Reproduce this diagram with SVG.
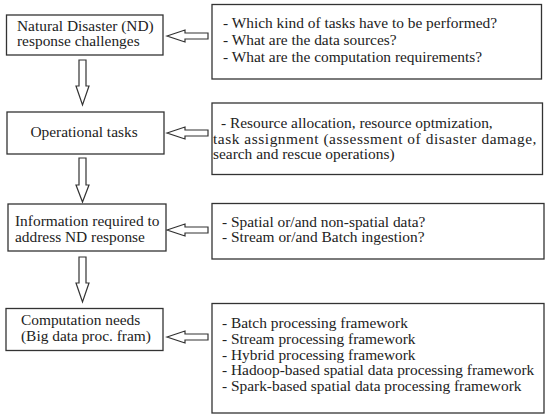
<svg xmlns="http://www.w3.org/2000/svg" width="550" height="418" viewBox="0 0 550 418">
<style>
.box{fill:#fff;stroke:#333;stroke-width:1.3}
.arr{fill:#fff;stroke:#333;stroke-width:1.2;stroke-linejoin:miter}
text{font-family:"Liberation Serif","DejaVu Serif",serif;font-size:14px;fill:#222}
.c{text-anchor:middle}
</style>
<rect width="550" height="418" fill="#fff"/>
<g id="connectors">
<polygon class="arr" points="167,36 185,30 185,33 208,33 208,39 185,39 185,42"/>
<polygon class="arr" points="167,133 185,127 185,130 208,130 208,136 185,136 185,139"/>
<polygon class="arr" points="167,230 185,224 185,227 208,227 208,233 185,233 185,236"/>
<polygon class="arr" points="167,337 185,331 185,334 208,334 208,340 185,340 185,343"/>
<polygon class="arr" points="79,60 86,60 86,86 89,86 82.5,105 76,86 79,86"/>
<polygon class="arr" points="79,158 86,158 86,185 89,185 82.5,202 76,185 79,185"/>
<polygon class="arr" points="79,257 86,257 86,283 89,283 82.5,302 76,283 79,283"/>
</g>
<g id="n1"><rect class="box" x="6.5" y="15" width="156.5" height="40"/>
<text transform="translate(17,31) scale(1.1,1)">Natural Disaster (ND)</text>
<text transform="translate(17,46) scale(1.1,1)">response challenges</text></g>
<g id="n2"><rect class="box" x="7" y="112" width="157" height="42"/>
<text class="c" transform="translate(84,137) scale(1.1,1)">Operational tasks</text></g>
<g id="n3"><rect class="box" x="8" y="204" width="158" height="47"/>
<text transform="translate(15,226) scale(1.1,1)">Information required to</text>
<text transform="translate(15,242) scale(1.1,1)">address ND response</text></g>
<g id="n4"><rect class="box" x="6" y="308.5" width="157" height="42"/>
<text transform="translate(21,325) scale(1.1,1)">Computation needs</text>
<text transform="translate(21,341) scale(1.1,1)">(Big data proc. fram)</text></g>
<g id="r1"><rect class="box" x="212" y="4.5" width="329.5" height="74.5"/>
<text transform="translate(223,28) scale(1.1,1)">- Which kind of tasks have to be performed?</text>
<text transform="translate(223,45) scale(1.1,1)">- What are the data sources?</text>
<text transform="translate(223,62) scale(1.1,1)">- What are the computation requirements?</text></g>
<g id="r2"><rect class="box" x="212" y="103" width="330.5" height="71.5"/>
<text transform="translate(221,128) scale(1.1,1)">- Resource allocation, resource optmization,</text>
<text transform="translate(213,143.5) scale(1.1,1)" textLength="294" lengthAdjust="spacing">task assignment (assessment of disaster damage,</text>
<text transform="translate(213,159) scale(1.1,1)">search and rescue operations)</text></g>
<g id="r3"><rect class="box" x="212" y="203.5" width="332" height="55.5"/>
<text transform="translate(222,227) scale(1.1,1)">- Spatial or/and non-spatial data?</text>
<text transform="translate(222,242) scale(1.1,1)">- Stream or/and Batch ingestion?</text></g>
<g id="r4"><rect class="box" x="212" y="303.5" width="332" height="109.5"/>
<text transform="translate(222,328) scale(1.1,1)">- Batch processing framework</text>
<text transform="translate(222,344) scale(1.1,1)">- Stream processing framework</text>
<text transform="translate(222,359.5) scale(1.1,1)">- Hybrid processing framework</text>
<text transform="translate(222,375) scale(1.1,1)">- Hadoop-based spatial data processing framework</text>
<text transform="translate(222,390.5) scale(1.1,1)">- Spark-based spatial data processing framework</text></g>
</svg>
